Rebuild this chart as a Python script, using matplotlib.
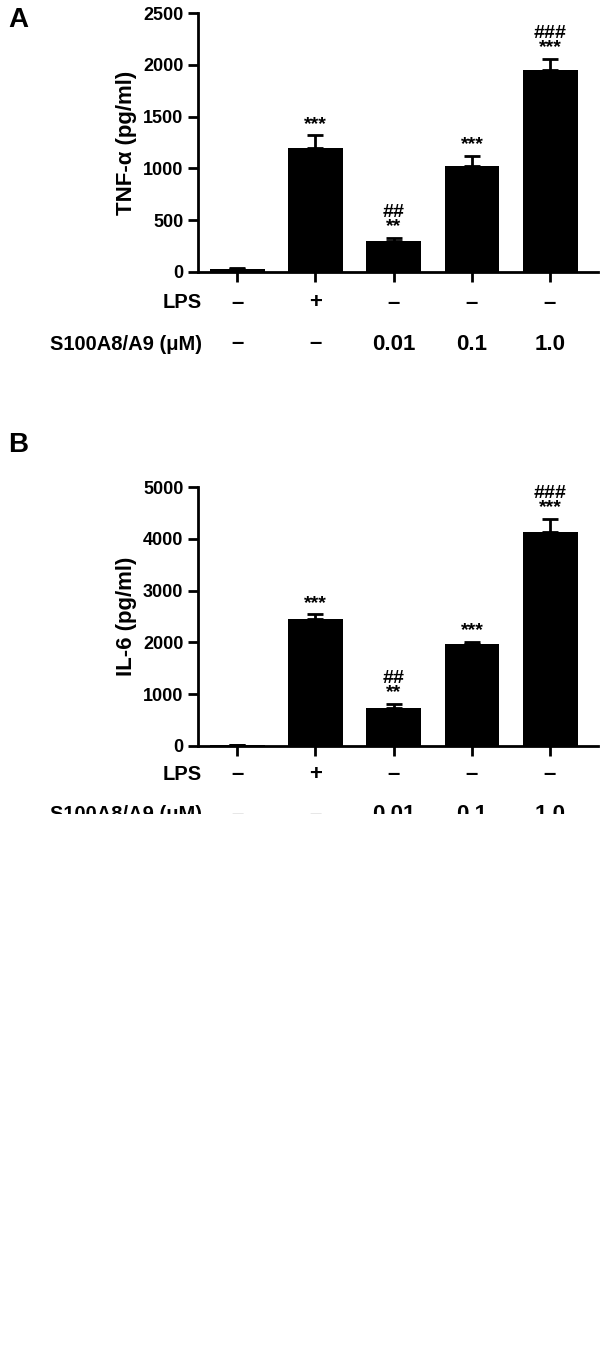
import matplotlib
matplotlib.use("Agg")
import matplotlib.pyplot as plt
from matplotlib.patches import Rectangle

plt.rcParams["font.family"] = "Liberation Sans"
plt.rcParams["font.weight"] = "bold"

lps = ["\u2013", "+", "\u2013", "\u2013", "\u2013"]
s100 = ["\u2013", "\u2013", "0.01", "0.1", "1.0"]

tnf = [30, 1200, 300, 1020, 1950]
tnf_err = [5, 120, 30, 100, 110]
tnf_marks = ["", "***", "##\n**", "***", "###\n***"]

il6 = [20, 2460, 730, 1960, 4130]
il6_err = [5, 80, 90, 50, 250]
il6_marks = ["", "***", "##\n**", "***", "###\n***"]

W, H = 602, 1346
fig = plt.figure(figsize=(W / 100, H / 100), dpi=100)

def px(x, y):
    return x / W, 1 - y / H

def panel(bottom, top, vals, errs, marks, ymax, step, ylabel, letter, lety, rows):
    l, b = px(198, bottom)
    _, t = px(0, top)
    ax = fig.add_axes([l, b, 598 / W - l, t - b])
    x = range(len(vals))
    ax.bar(x, vals, width=0.7, color="black")
    ax.errorbar(x, vals, yerr=[[0] * len(errs), errs], fmt="none", ecolor="black",
                capsize=6, elinewidth=2, capthick=2)
    for i, m in enumerate(marks):
        if m:
            ax.text(i, vals[i] + errs[i] + ymax * 0.01, m, ha="center", va="bottom",
                    fontsize=14, linespacing=0.8)
    ax.set_xlim(-0.5, 4.61)
    ax.set_ylim(0, ymax)
    ax.set_yticks(range(0, ymax + 1, step))
    ax.set_xticks(list(x))
    ax.set_xticklabels([])
    for s in ["top", "right"]:
        ax.spines[s].set_visible(False)
    for s in ["left", "bottom"]:
        ax.spines[s].set_linewidth(2)
    ax.tick_params(axis="both", width=2, length=7, labelsize=13)
    ax.set_ylabel(ylabel, fontsize=16, fontweight="bold")
    fig.text(*px(8, lety), letter, fontsize=20, fontweight="bold", va="center")
    for label, vals_row, yy in rows:
        fig.text(*px(202, yy), label, fontsize=14.5, ha="right", va="center")
        for i, v in enumerate(vals_row):
            fig.text(*px(237 + 78.25 * i, yy), v, fontsize=16, ha="center", va="center")

panel(272, 13, tnf, tnf_err, tnf_marks, 2500, 500, "TNF-\u03b1 (pg/ml)", "A", 20,
      [("LPS", lps, 303), ("S100A8/A9 (\u03bcM)", s100, 344)])
panel(746, 487, il6, il6_err, il6_marks, 5000, 1000, "IL-6 (pg/ml)", "B", 445,
      [("LPS", lps, 775), ("S100A8/A9 (\u03bcM)", s100, 815)])

# lower part of the image is blank, cutting the last row in half
fig.patches.append(Rectangle((0, 0), 1, 1 - 814 / H, transform=fig.transFigure,
                             facecolor="white", edgecolor="none", zorder=10))

fig.savefig("out.png", dpi=100, facecolor="white")
